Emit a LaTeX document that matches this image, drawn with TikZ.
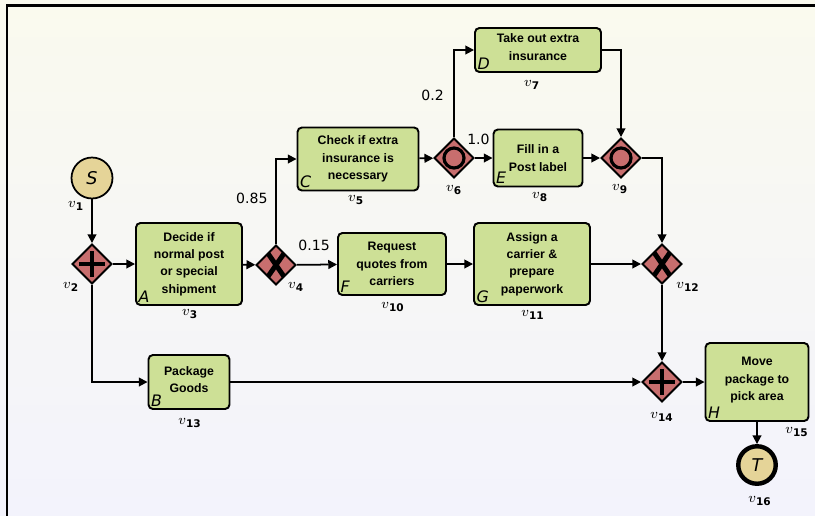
\documentclass[tikz,border=0pt]{standalone}
\usepackage{fontspec}
\setmainfont{DejaVu Sans}
\newfontfamily\taskfont{Liberation Sans}
\usetikzlibrary{shapes,shapes.geometric,arrows.meta}
\definecolor{taskgreen}{RGB}{205,224,150}
\definecolor{gatered}{RGB}{200,110,110}
\definecolor{eventtan}{RGB}{229,212,152}
\definecolor{bgtop}{RGB}{250,250,238}
\definecolor{bgbottom}{RGB}{243,243,252}
\newcommand{\vname}[1]{$v$\textsubscript{\bfseries #1}}
\newcommand{\lift}[1]{\rule[-#1]{0pt}{#1}}

\begin{document}
\begin{tikzpicture}[x=0.02cm, y=-0.02cm, ->, >={Triangle[length=5pt,width=5pt]},
      line width=1pt,
      every node/.append style={font=\fontsize{8}{9}\selectfont},
      task/.style={draw, fill=taskgreen, rounded corners=2.5pt, line width=1.1pt,
        align=center, inner sep=0pt, font=\taskfont\bfseries\fontsize{7}{9.9}\selectfont},
      gateway/.style={draw, diamond, aspect=1, fill=gatered, line width=1.1pt,
        inner sep=0pt, minimum width=0.8cm, minimum height=0.8cm}]
    \tikzstyle{letter} = [font=\itshape\fontsize{9}{9}\selectfont, inner sep=1.5pt, anchor=south west]
    \tikzstyle{andgw} = [gateway, path picture={
        \draw[-, line width=2.6pt] ([shift={(-13,0)}]path picture bounding box.center) -- ++(26,0);
        \draw[-, line width=2.6pt] ([shift={(0,-13)}]path picture bounding box.center) -- ++(0,26);}]
    \tikzstyle{xorgw} = [gateway, path picture={
        \draw[-, line width=2.8pt] ([shift={(-9,-13)}]path picture bounding box.center) -- ++(18,26);
        \draw[-, line width=2.8pt] ([shift={(9,-13)}]path picture bounding box.center) -- ++(-18,26);}]
    \tikzstyle{orgw} = [gateway, path picture={
        \draw[-, line width=1.8pt] (path picture bounding box.center) circle (0.2cm);}]
    % background and frame
    \useasboundingbox (0,0) rectangle (815,515);
    \shade[top color=bgtop, bottom color=bgbottom] (0,0) rectangle (815,515);
    \draw[-, line width=1.7pt] (7,520) -- (7,5) -- (820,5);

    % events
    \node (v1) [draw, circle, fill=eventtan, minimum size=0.82cm, inner sep=0pt,
      font=\itshape\fontsize{10}{10}\selectfont] at (92,178) {S};
    \node (v16) [draw, circle, fill=eventtan, minimum size=0.75cm, inner sep=0pt, line width=2.5pt,
      font=\itshape\fontsize{10}{10}\selectfont] at (757,465) {T};

    % gateways
    \node (v2) [andgw] at (92,264) {};
    \node (v4) [xorgw] at (276,265) {};
    \node (v6) [orgw] at (454,158) {};
    \node (v9) [orgw] at (621,158) {};
    \node (v12) [xorgw] at (662,264) {};
    \node (v14) [andgw] at (662,382) {};

    % tasks
    \node (v3) [task, minimum width=2.12cm, minimum height=1.64cm,
      label={[letter, name=letA]south west:A}] at (189,264) {Decide if\\normal post\\or special\\shipment};
    \node (v5) [task, minimum width=2.42cm, minimum height=1.26cm,
      label={[letter, name=letC]south west:C}] at (358,159) {Check if extra\\insurance is\\necessary};
    \node (v7) [task, minimum width=2.52cm, minimum height=0.88cm,
      label={[letter, name=letD]south west:D}] at (538,50) {Take out extra\\insurance\lift{3.4pt}};
    \node (v8) [task, minimum width=1.78cm, minimum height=1.14cm,
      label={[letter, name=letE]south west:E}] at (538,158) {Fill in a\\Post label};
    \node (v10) [task, minimum width=2.16cm, minimum height=1.24cm,
      label={[letter, name=letF]south west:F}] at (392,264) {Request\\quotes from\\carriers};
    \node (v11) [task, minimum width=2.32cm, minimum height=1.64cm,
      label={[letter, name=letG]south west:G}] at (532,264) {Assign a\\carrier \&\\prepare\\paperwork};
    \node (v13) [task, minimum width=1.62cm, minimum height=1.08cm,
      label={[letter, name=letB]south west:B}] at (189,382) {Package\\Goods\lift{2.8pt}};
    \node (v15) [task, minimum width=2.06cm, minimum height=1.56cm,
      label={[letter, name=letH]south west:H}] at (757,382) {Move\\package to\\pick area\lift{3.4pt}};

    % vertex names
    \foreach \n/\x/\y in {1/76/206, 2/71/287, 3/190/314, 4/296/287, 5/356/200, 6/454/190,
        7/532/85, 8/540/197, 9/620/189, 10/393/307, 11/533/315, 12/688/287,
        13/190/423, 14/662/417, 15/797/432, 16/760/501}
      \node (name\n) at (\x,\y) {\vname{\n}};

    % flows
    \draw (v1) -- (v2);
    \draw (v2) -- (v3);
    \draw (v2.south) |- (v13);
    \draw (v3) -- (v4);
    \draw (v4.north) |- node[pos=0.27, left=1pt] (p85) {0.85} (v5);
    \draw (v4) -- node[pos=0.43, above=4pt] (p15) {0.15} (v10);
    \draw (v5) -- (v6);
    \draw (v6.north) |- node[pos=0.24, left=2pt] (p20) {0.2} (v7);
    \draw (v6) -- node[pos=0.2, above=4pt] (p10) {1.0} (v8);
    \draw (v7.east) -| (v9.north);
    \draw (v8) -- (v9);
    \draw (v9.east) -| (v12.north);
    \draw (v10) -- (v11);
    \draw (v11) -- (v12);
    \draw (v12) -- (v14);
    \draw (v13) -- (v14);
    \draw (v14) -- (v15);
    \draw (v15) -- (v16);
\end{tikzpicture}
\end{document}
